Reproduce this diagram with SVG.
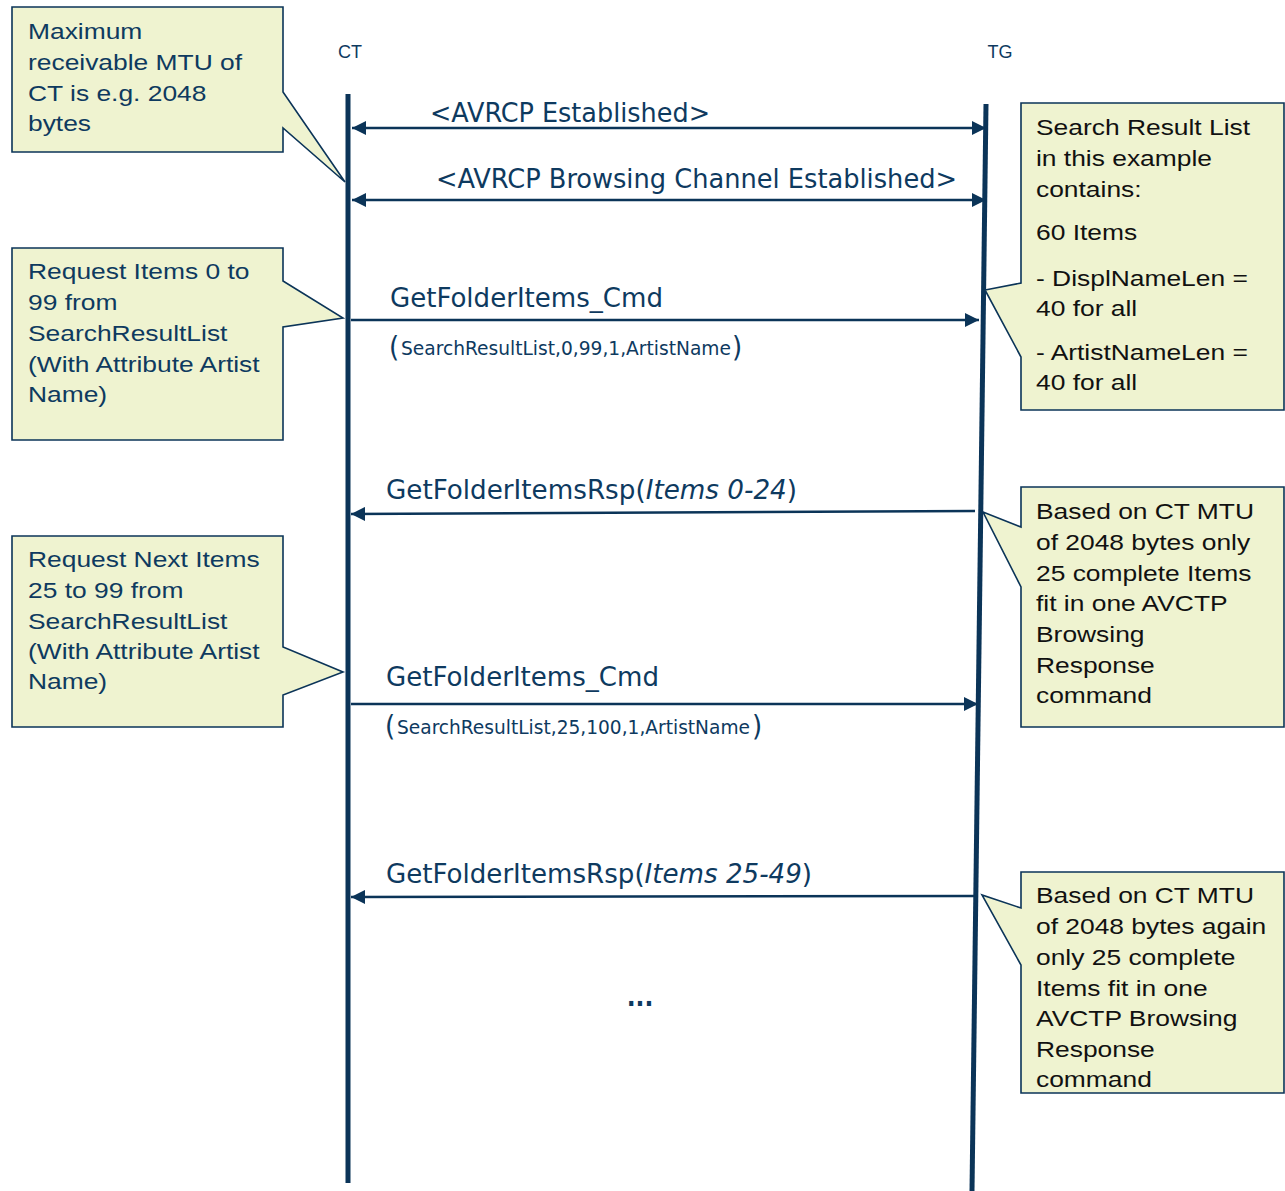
<svg xmlns="http://www.w3.org/2000/svg" width="1285" height="1191" viewBox="0 0 1285 1191">
<style>
.bg{fill:#ffffff}
.life{stroke:#0b3458;stroke-width:5;fill:none}
.msg{stroke:#0b3458;stroke-width:2.5;fill:none}
.call{fill:#eff3d0;stroke:#0b3458;stroke-width:1.6}
.ct{font-family:"Liberation Sans",Arial,sans-serif;font-size:22px;fill:#0e3a5f}
.rt{font-family:"Liberation Sans",Arial,sans-serif;font-size:22px;fill:#111111}
.lbl{font-family:"DejaVu Sans Condensed","DejaVu Sans",sans-serif;font-size:26px;fill:#0e3a5f}
.sub{font-family:"DejaVu Sans Condensed","DejaVu Sans",sans-serif;font-size:19px;fill:#0e3a5f}
.par{font-family:"DejaVu Sans Condensed","DejaVu Sans",sans-serif;font-size:29px;fill:#0e3a5f}
.hd{font-family:"Liberation Sans",Arial,sans-serif;font-size:18px;fill:#0e3a5f}
</style>
<defs>
<marker id="ah" viewBox="0 0 10 10" refX="10" refY="5" markerUnits="userSpaceOnUse" markerWidth="15" markerHeight="14" orient="auto-start-reverse">
<path d="M0,0 L10,5 L0,10 z" fill="#0b3458"/>
</marker>
</defs>
<rect class="bg" x="0" y="0" width="1285" height="1191"/>

<g id="CT">
<text class="hd" x="350" y="58" text-anchor="middle">CT</text>
<line class="life" x1="348" y1="94" x2="348" y2="1183"/>
</g>
<g id="TG">
<text class="hd" x="1000" y="58" text-anchor="middle">TG</text>
<line class="life" x1="986" y1="104" x2="972" y2="1191"/>
</g>

<g id="connectors">
<line class="msg" x1="352" y1="128" x2="986" y2="128" marker-start="url(#ah)" marker-end="url(#ah)"/>
<text class="lbl" x="430" y="122" textLength="280" lengthAdjust="spacingAndGlyphs">&lt;AVRCP Established&gt;</text>

<line class="msg" x1="352" y1="200" x2="986" y2="200" marker-start="url(#ah)" marker-end="url(#ah)"/>
<text class="lbl" x="436" y="188" textLength="521" lengthAdjust="spacingAndGlyphs">&lt;AVRCP Browsing Channel Established&gt;</text>

<line class="msg" x1="351" y1="320" x2="979" y2="320" marker-end="url(#ah)"/>
<text class="lbl" x="390" y="307" textLength="273" lengthAdjust="spacingAndGlyphs">GetFolderItems_Cmd</text>
<text class="par" x="389" y="357">(</text>
<text class="sub" x="401" y="355" textLength="330" lengthAdjust="spacingAndGlyphs">SearchResultList,0,99,1,ArtistName</text>
<text class="par" x="732" y="357">)</text>

<line class="msg" x1="975" y1="511" x2="351" y2="514" marker-end="url(#ah)"/>
<text class="lbl" x="386" y="499" textLength="411" lengthAdjust="spacingAndGlyphs">GetFolderItemsRsp(<tspan font-style="italic">Items 0-24</tspan>)</text>

<line class="msg" x1="351" y1="704" x2="978" y2="704" marker-end="url(#ah)"/>
<text class="lbl" x="386" y="686" textLength="273" lengthAdjust="spacingAndGlyphs">GetFolderItems_Cmd</text>
<text class="par" x="385" y="736">(</text>
<text class="sub" x="397" y="734" textLength="353" lengthAdjust="spacingAndGlyphs">SearchResultList,25,100,1,ArtistName</text>
<text class="par" x="752" y="736">)</text>

<line class="msg" x1="975" y1="896" x2="351" y2="897" marker-end="url(#ah)"/>
<text class="lbl" x="386" y="883" textLength="426" lengthAdjust="spacingAndGlyphs">GetFolderItemsRsp(<tspan font-style="italic">Items 25-49</tspan>)</text>

<text class="lbl" x="640" y="1006" text-anchor="middle" font-weight="bold">...</text>
</g>

<g id="note-mtu">
<path class="call" d="M12,7 H283 V92 L345,182 L283,128 V152 H12 Z"/>
<g transform="translate(28,0) scale(1.2,1)">
<text class="ct" x="0" y="39">Maximum</text>
<text class="ct" x="0" y="70">receivable MTU of</text>
<text class="ct" x="0" y="101">CT is e.g. 2048</text>
<text class="ct" x="0" y="131">bytes</text>
</g>
</g>

<g id="note-req1">
<path class="call" d="M12,248 H283 V281 L343,318 L283,327 V440 H12 Z"/>
<g transform="translate(28,0) scale(1.2,1)">
<text class="ct" x="0" y="279">Request Items 0 to</text>
<text class="ct" x="0" y="310">99 from</text>
<text class="ct" x="0" y="341">SearchResultList</text>
<text class="ct" x="0" y="372">(With Attribute Artist</text>
<text class="ct" x="0" y="402">Name)</text>
</g>
</g>

<g id="note-req2">
<path class="call" d="M12,536 H283 V647 L343,672 L283,695 V727 H12 Z"/>
<g transform="translate(28,0) scale(1.2,1)">
<text class="ct" x="0" y="567">Request Next Items</text>
<text class="ct" x="0" y="598">25 to 99 from</text>
<text class="ct" x="0" y="629">SearchResultList</text>
<text class="ct" x="0" y="659">(With Attribute Artist</text>
<text class="ct" x="0" y="689">Name)</text>
</g>
</g>

<g id="note-list">
<path class="call" d="M1021,103 H1284 V410 H1021 V357 L985,290 L1021,283 Z"/>
<g transform="translate(1036,0) scale(1.2,1)">
<text class="rt" x="0" y="135">Search Result List</text>
<text class="rt" x="0" y="166">in this example</text>
<text class="rt" x="0" y="197">contains:</text>
<text class="rt" x="0" y="240">60 Items</text>
<text class="rt" x="0" y="286">- DisplNameLen =</text>
<text class="rt" x="0" y="316">40 for all</text>
<text class="rt" x="0" y="360">- ArtistNameLen =</text>
<text class="rt" x="0" y="390">40 for all</text>
</g>
</g>

<g id="note-rsp1">
<path class="call" d="M1021,487 H1284 V727 H1021 V587 L983,512 L1021,527 Z"/>
<g transform="translate(1036,0) scale(1.2,1)">
<text class="rt" x="0" y="519">Based on CT MTU</text>
<text class="rt" x="0" y="550">of 2048 bytes only</text>
<text class="rt" x="0" y="581">25 complete Items</text>
<text class="rt" x="0" y="611">fit in one AVCTP</text>
<text class="rt" x="0" y="642">Browsing</text>
<text class="rt" x="0" y="673">Response</text>
<text class="rt" x="0" y="703">command</text>
</g>
</g>

<g id="note-rsp2">
<path class="call" d="M1021,872 H1284 V1093 H1021 V965 L982,895 L1021,908 Z"/>
<g transform="translate(1036,0) scale(1.2,1)">
<text class="rt" x="0" y="903">Based on CT MTU</text>
<text class="rt" x="0" y="934">of 2048 bytes again</text>
<text class="rt" x="0" y="965">only 25 complete</text>
<text class="rt" x="0" y="996">Items fit in one</text>
<text class="rt" x="0" y="1026">AVCTP Browsing</text>
<text class="rt" x="0" y="1057">Response</text>
<text class="rt" x="0" y="1087">command</text>
</g>
</g>
</svg>
